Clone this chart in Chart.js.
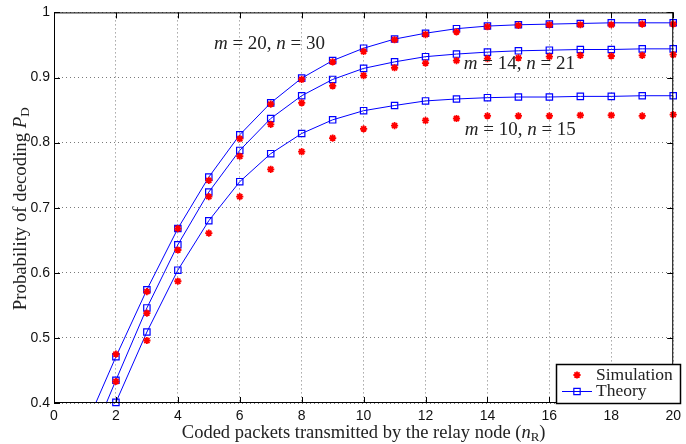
<!DOCTYPE html>
<html>
<head>
<meta charset="utf-8">
<script src="https://cdn.jsdelivr.net/npm/chart.js@4.4.1/dist/chart.umd.min.js"></script>
<style>
  html, body { margin: 0; padding: 0; background: #fff; }
  #plot { display: block; }
</style>
</head>
<body>
<canvas id="plot" width="686" height="444"></canvas>
<script>
// coded packets transmitted by the relay node
const nR = [1, 2, 3, 4, 5, 6, 7, 8, 9, 10, 11, 12, 13, 14, 15, 16, 17, 18, 19, 20];

// theory curves
const theory20 = [0.362, 0.471, 0.574, 0.668, 0.747, 0.812, 0.861, 0.899, 0.926, 0.945, 0.959, 0.968, 0.975, 0.979, 0.981, 0.982, 0.983, 0.984, 0.984, 0.984];
const theory14 = [0.322, 0.435, 0.546, 0.643, 0.724, 0.788, 0.837, 0.872, 0.897, 0.914, 0.924, 0.932, 0.936, 0.939, 0.941, 0.942, 0.943, 0.943, 0.944, 0.944];
const theory10 = [null, 0.401, 0.509, 0.604, 0.680, 0.740, 0.783, 0.814, 0.835, 0.849, 0.857, 0.864, 0.867, 0.869, 0.870, 0.870, 0.871, 0.871, 0.872, 0.872];

// simulation points
const sim20 = [null, 0.475, 0.571, 0.668, 0.742, 0.806, 0.859, 0.897, 0.924, 0.940, 0.958, 0.966, 0.970, 0.978, 0.980, 0.981, 0.981, 0.981, 0.982, 0.982];
const sim14 = [null, 0.433, 0.538, 0.635, 0.717, 0.779, 0.828, 0.861, 0.887, 0.903, 0.915, 0.922, 0.926, 0.929, 0.930, 0.932, 0.934, 0.933, 0.934, 0.935];
const sim10 = [null, null, 0.496, 0.587, 0.661, 0.717, 0.759, 0.786, 0.807, 0.821, 0.826, 0.834, 0.837, 0.841, 0.841, 0.841, 0.842, 0.842, 0.841, 0.843];

const xTicks = [0, 2, 4, 6, 8, 10, 12, 14, 16, 18, 20];
const yTicks = [0.4, 0.5, 0.6, 0.7, 0.8, 0.9, 1];

const SERIF = '"Liberation Serif", "Times New Roman", serif';
const SANS = '"Liberation Sans", Arial, sans-serif';
const BLUE = '#0000ff';
const RED = '#ff0000';

const pts = arr => nR.map((v, i) => ({ x: v, y: arr[i] }));

function theorySet(arr, clipBottom) {
  return {
    label: 'Theory',
    data: pts(arr),
    showLine: true,
    borderColor: BLUE,
    borderWidth: 1,
    pointStyle: 'rect',
    pointRadius: 4.5,
    pointBorderWidth: 1.2,
    pointBorderColor: BLUE,
    pointBackgroundColor: 'rgba(0,0,0,0)',
    clip: { left: 0, top: 6, right: 6, bottom: clipBottom },
    order: 2,
  };
}

function simSet(arr) {
  return {
    label: 'Simulation',
    data: pts(arr),
    showLine: false,
    pointStyle: 'star',
    pointRadius: 3.6,
    pointBorderWidth: 1.8,
    pointBorderColor: RED,
    pointBackgroundColor: RED,
    clip: { left: 0, top: 6, right: 6, bottom: 6 },
    order: 1,
  };
}

// draw a run of text pieces: [text, style] with style 'r' regular, 'i' italic, 's' subscript
function richText(ctx, parts, size, cx, cy) {
  const fontOf = s => (s === 'i' ? 'italic ' : '') + (s === 's' ? size * 0.7 : size) + 'px ' + SERIF;
  let w = 0;
  parts.forEach(([t, s]) => { ctx.font = fontOf(s); w += ctx.measureText(t).width; });
  let x = cx - w / 2;
  ctx.textAlign = 'left';
  ctx.textBaseline = 'middle';
  parts.forEach(([t, s]) => {
    ctx.font = fontOf(s);
    ctx.fillText(t, x, s === 's' ? cy + size * 0.25 : cy);
    x += ctx.measureText(t).width;
  });
}

const curveNotes = [
  { parts: [['m', 'i'], [' = 20, ', 'r'], ['n', 'i'], [' = 30', 'r']], x: 6.96, y: 0.951 },
  { parts: [['m', 'i'], [' = 14, ', 'r'], ['n', 'i'], [' = 21', 'r']], x: 15.03, y: 0.9206 },
  { parts: [['m', 'i'], [' = 10, ', 'r'], ['n', 'i'], [' = 15', 'r']], x: 15.06, y: 0.8198 },
];

const framePlugin = {
  id: 'frame',
  afterDraw(chart) {
    const { ctx, chartArea: a, scales: { x, y } } = chart;
    ctx.save();
    ctx.strokeStyle = '#000';
    ctx.lineWidth = 1;
    ctx.strokeRect(a.left + 0.5, a.top + 0.5, a.right - a.left - 1, a.bottom - a.top - 1);

    // inward ticks on all four sides
    ctx.beginPath();
    xTicks.forEach(v => {
      const px = Math.round(x.getPixelForValue(v)) + 0.5;
      ctx.moveTo(px, a.bottom); ctx.lineTo(px, a.bottom - 6);
      ctx.moveTo(px, a.top); ctx.lineTo(px, a.top + 6);
    });
    yTicks.forEach(v => {
      const py = Math.round(y.getPixelForValue(v)) + 0.5;
      ctx.moveTo(a.left, py); ctx.lineTo(a.left + 6, py);
      ctx.moveTo(a.right, py); ctx.lineTo(a.right - 6, py);
    });
    ctx.stroke();

    // curve annotations
    ctx.fillStyle = '#222';
    curveNotes.forEach(n => richText(ctx, n.parts, 19, x.getPixelForValue(n.x), y.getPixelForValue(n.y)));

    // axis titles
    richText(ctx, [['Coded packets transmitted by the relay node (', 'r'], ['n', 'i'], ['R', 's'], [')', 'r']], 18.5,
      (a.left + a.right) / 2, 433);
    ctx.save();
    ctx.translate(21, (a.top + a.bottom) / 2 + 1);
    ctx.rotate(-Math.PI / 2);
    richText(ctx, [['Probability of decoding ', 'r'], ['P', 'i'], ['D', 's']], 18.8, 0, 0);
    ctx.restore();

    // legend
    const lx = 556, ly = 364, lw = 124, lh = 39;
    ctx.fillStyle = '#fff';
    ctx.fillRect(lx, ly, lw, lh);
    ctx.strokeStyle = '#000';
    ctx.lineWidth = 1.5;
    ctx.strokeRect(lx + 0.5, ly + 0.5, lw, lh);
    const H = Chart.helpers;
    ctx.lineWidth = 1.8;
    ctx.strokeStyle = RED;
    ctx.fillStyle = RED;
    H.drawPoint(ctx, { pointStyle: 'star', radius: 3.6, borderWidth: 1.8 }, lx + 21, ly + 11);
    ctx.strokeStyle = BLUE;
    ctx.lineWidth = 1;
    ctx.beginPath();
    ctx.moveTo(lx + 6, ly + 27.5); ctx.lineTo(lx + 36, ly + 27.5);
    ctx.stroke();
    ctx.lineWidth = 1.2;
    ctx.fillStyle = 'rgba(0,0,0,0)';
    H.drawPoint(ctx, { pointStyle: 'rect', radius: 4.5, borderWidth: 1.2 }, lx + 21, ly + 27.5);
    ctx.fillStyle = '#222';
    ctx.font = '17.5px ' + SERIF;
    ctx.textAlign = 'left';
    ctx.textBaseline = 'middle';
    ctx.fillText('Simulation', lx + 40, ly + 11);
    ctx.fillText('Theory', lx + 40, ly + 27);
    ctx.restore();
  },
};

new Chart(document.getElementById('plot'), {
  type: 'scatter',
  data: {
    datasets: [
      simSet(sim20), simSet(sim14), simSet(sim10),
      theorySet(theory20, 0), theorySet(theory14, 0), theorySet(theory10, 6),
    ],
  },
  options: {
    responsive: false,
    devicePixelRatio: 1,
    animation: false,
    layout: { padding: { top: 10, right: 3, left: 0, bottom: 0 } },
    plugins: { legend: { display: false }, tooltip: { enabled: false } },
    scales: {
      x: {
        type: 'linear',
        min: 0, max: 20,
        afterBuildTicks: s => { s.ticks = xTicks.map(v => ({ value: v })); },
        afterFit: s => { s.height = 41; },
        grid: { color: '#7a7a7a', lineWidth: 1, drawTicks: false },
        border: { display: false, dash: [1, 3] },
        ticks: { padding: 5, color: '#111', font: { family: SANS, size: 14 }, maxRotation: 0 },
      },
      y: {
        type: 'linear',
        min: 0.4, max: 1,
        afterBuildTicks: s => { s.ticks = yTicks.map(v => ({ value: v })); },
        afterFit: s => { s.width = 54; },
        grid: { color: '#7a7a7a', lineWidth: 1, drawTicks: false },
        border: { display: false, dash: [1, 3] },
        ticks: {
          padding: 4, color: '#111', font: { family: SANS, size: 14 },
          callback: v => (v === 1 ? '1' : v.toFixed(1)),
        },
      },
    },
  },
  plugins: [framePlugin],
});
</script>
</body>
</html>
